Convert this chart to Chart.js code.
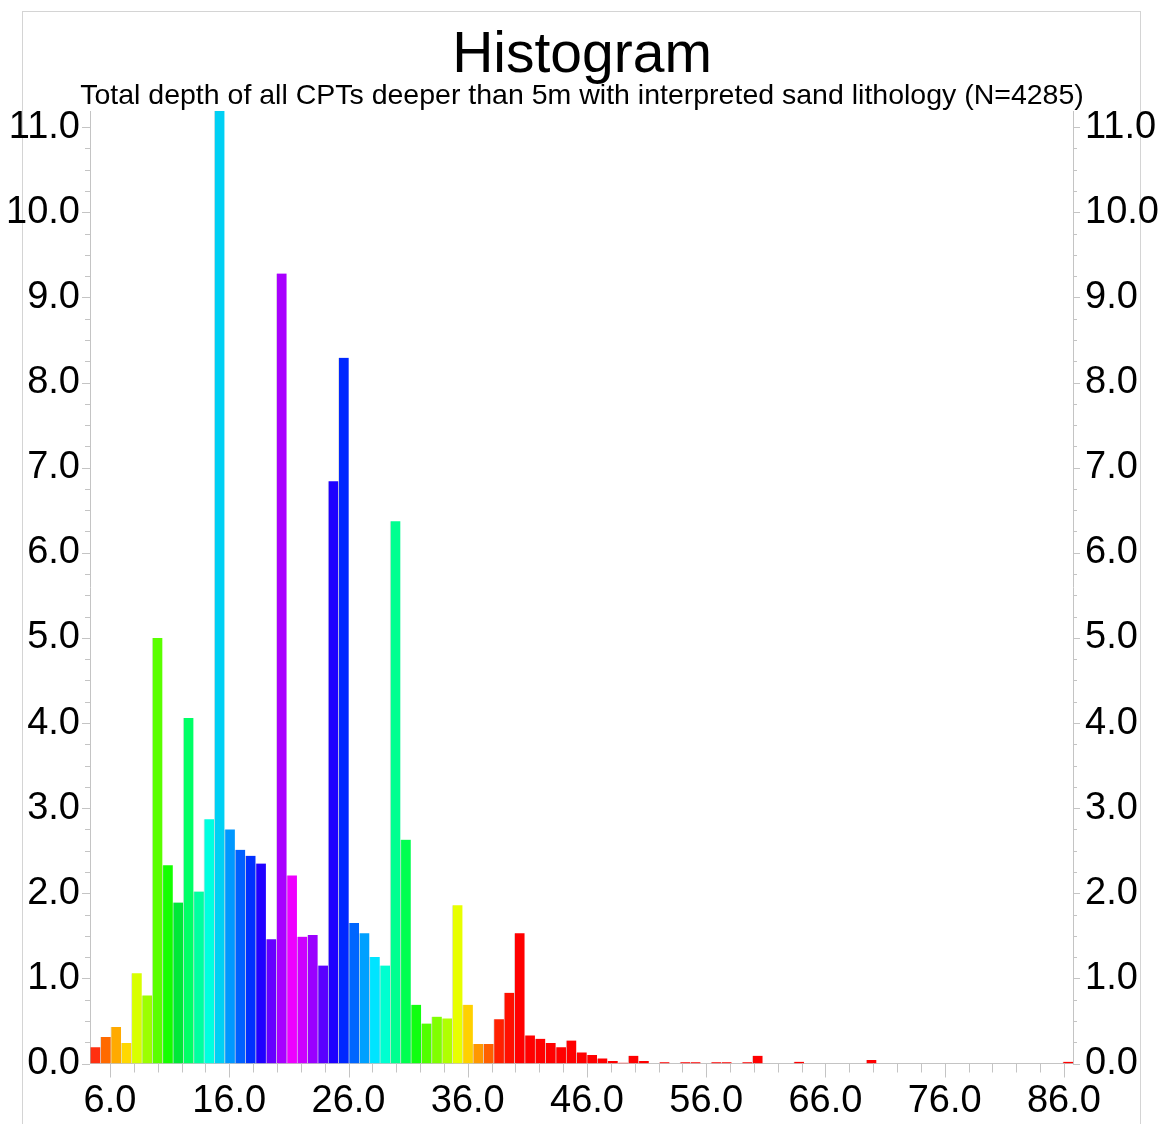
<!DOCTYPE html>
<html lang="en">
<head>
  <meta charset="UTF-8">
  <title>Histogram</title>
  <style>
    html, body {
      margin: 0;
      padding: 0;
      background-color: #ffffff;
    }
    #wrap {
      width: 1170px;
      height: 1124px;
    }
  </style>
</head>
<body>

<div id="wrap">
  <canvas id="histo" width="1170" height="1124"></canvas>
</div>

<script src="https://cdn.jsdelivr.net/npm/chart.js"></script>
<script>
  // histogram bins: 95 equal bins between the min and max depth (m)
  const binStart = 4.32;
  const binEnd = 86.76;

  // share of CPTs per bin (%)
  const percentages = [
    0.19, 0.31, 0.43, 0.24, 1.06, 0.80, 5.00, 2.33, 1.89, 4.06,
    2.02, 2.87, 11.20, 2.75, 2.51, 2.44, 2.35, 1.46, 9.28, 2.21,
    1.49, 1.51, 1.15, 6.84, 8.29, 1.65, 1.53, 1.25, 1.15, 6.37,
    2.63, 0.69, 0.47, 0.55, 0.53, 1.86, 0.69, 0.23, 0.23, 0.52,
    0.83, 1.53, 0.33, 0.29, 0.24, 0.19, 0.27, 0.13, 0.10, 0.06,
    0.03, 0.01, 0.09, 0.03, 0, 0.015, 0, 0.015, 0.015, 0,
    0.015, 0.015, 0, 0.015, 0.09, 0, 0, 0, 0.02, 0,
    0, 0, 0, 0, 0, 0.04, 0, 0, 0, 0,
    0, 0, 0, 0, 0, 0, 0, 0, 0, 0,
    0, 0, 0, 0, 0.02
  ];

  const xMajorTicks = [6, 16, 26, 36, 46, 56, 66, 76, 86];
  const yMajorTicks = [0, 1, 2, 3, 4, 5, 6, 7, 8, 9, 10, 11];

  const barColors = [
    '#ff3010', '#ff6a00', '#ffaa00', '#ffd800', '#d8ff00', '#9cff00', '#5aff00', '#14ff00', '#00e838', '#00ff66',
    '#00ffa0', '#00ffe0', '#00d0f4', '#0098ff', '#0060ff', '#0030ff', '#2000ff', '#6600ff', '#a800ff', '#ee00ff',
    '#cc00ff', '#9a00ff', '#5a00ff', '#1e00ff', '#0028ff', '#0066ff', '#00a0ff', '#00e4ff', '#00ffd0', '#00ff90',
    '#00ff50', '#10ff10', '#50ff00', '#80ff00', '#b0ff00', '#e8ff00', '#ffd000', '#ff9800', '#ff6000', '#ff2000',
    '#ff1000'
  ];

  const fontFamily = "Arial, 'Liberation Sans', sans-serif";
  const axisGray = '#c4c4c4';

  const binWidth = (binEnd - binStart) / percentages.length;
  const points = percentages.map((p, i) => ({ x: binStart + (i + 0.5) * binWidth, y: p }));
  const colors = percentages.map((p, i) => barColors[i] || '#ff0000');

  const isMajor = (v, list) => list.some(m => Math.abs(m - v) < 1e-6);

  // light frame round the whole figure
  const frame = {
    id: 'frame',
    beforeDraw(chart) {
      const ctx = chart.ctx;
      ctx.save();
      ctx.strokeStyle = '#d4d4d4';
      ctx.lineWidth = 1;
      ctx.strokeRect(22.5, 11.5, 1118, 1200);
      ctx.restore();
    }
  };

  // major and minor tick marks on the outside of the axes
  const tickMarks = {
    id: 'tickMarks',
    afterDraw(chart) {
      const { ctx, scales } = chart;
      const x = scales.x, y = scales.y, y2 = scales.y2;
      ctx.save();
      ctx.strokeStyle = axisGray;
      ctx.lineWidth = 1;
      ctx.beginPath();
      x.ticks.forEach(t => {
        const px = Math.round(x.getPixelForValue(t.value)) + 0.5;
        const len = isMajor(t.value, xMajorTicks) ? 14 : 9;
        ctx.moveTo(px, x.top);
        ctx.lineTo(px, x.top + len);
      });
      y.ticks.forEach(t => {
        const py = Math.round(y.getPixelForValue(t.value)) + 0.5;
        const len = isMajor(t.value, yMajorTicks) ? 8 : 5;
        ctx.moveTo(y.right, py);
        ctx.lineTo(y.right - len, py);
      });
      y2.ticks.forEach(t => {
        const py = Math.round(y2.getPixelForValue(t.value)) + 0.5;
        const len = isMajor(t.value, yMajorTicks) ? 7 : 4;
        ctx.moveTo(y2.left, py);
        ctx.lineTo(y2.left + len, py);
      });
      ctx.stroke();
      ctx.restore();
    }
  };

  function yTicks(scale) {
    const ticks = [];
    for (let v = 0; v <= 11.0001; v += 0.25) ticks.push({ value: Math.round(v * 100) / 100 });
    scale.ticks = ticks;
  }

  function yAxis(position, width, padding) {
    return {
      type: 'linear',
      position: position,
      min: 0,
      max: 11.19,
      grid: { display: false, drawTicks: false },
      border: { display: true, color: axisGray, width: 1 },
      afterBuildTicks: yTicks,
      afterFit: s => { s.width = width; },
      ticks: {
        autoSkip: false,
        padding: padding,
        color: '#000000',
        font: { family: fontFamily, size: 38 },
        callback: v => isMajor(v, yMajorTicks) ? v.toFixed(1) : ''
      }
    };
  }

  const ctx = document.getElementById('histo').getContext('2d');
  const chart = new Chart(ctx, {
    type: 'bar',
    data: {
      datasets: [{
        data: points,
        backgroundColor: colors,
        borderColor: 'rgba(0, 0, 0, 0.12)',
        borderWidth: { left: 1, right: 0, top: 0, bottom: 0 },
        borderSkipped: false,
        barPercentage: 1,
        categoryPercentage: 1
      }]
    },
    options: {
      responsive: false,
      animation: false,
      layout: { padding: { top: 0, left: 0, right: 6, bottom: 0 } },
      plugins: {
        legend: { display: false },
        tooltip: { enabled: false },
        title: {
          display: true,
          text: 'Histogram',
          color: '#000000',
          font: { family: fontFamily, size: 57, weight: 'normal', lineHeight: 0.9 },
          padding: { top: 30.3, bottom: 0.4 }
        },
        subtitle: {
          display: true,
          text: 'Total depth of all CPTs deeper than 5m with interpreted sand lithology (N=4285)',
          color: '#000000',
          font: { family: fontFamily, size: 28.5, weight: 'normal', lineHeight: 1 },
          padding: { top: 0, bottom: 0.5 }
        }
      },
      scales: {
        x: {
          type: 'linear',
          min: binStart,
          max: binEnd,
          offset: false,
          grid: { display: false, drawTicks: false },
          border: { display: true, color: axisGray, width: 1 },
          afterBuildTicks: scale => {
            const ticks = [];
            for (let v = 6; v <= 86; v += 2) ticks.push({ value: v });
            scale.ticks = ticks;
          },
          afterFit: s => { s.height = 60.5; },
          ticks: {
            autoSkip: false,
            maxRotation: 0,
            padding: 15,
            color: '#000000',
            font: { family: fontFamily, size: 38 },
            callback: v => isMajor(v, xMajorTicks) ? v.toFixed(1) : ''
          }
        },
        y: yAxis('left', 90, 10),
        y2: yAxis('right', 91, 12)
      }
    },
    plugins: [frame, tickMarks]
  });
</script>
</body>
</html>
